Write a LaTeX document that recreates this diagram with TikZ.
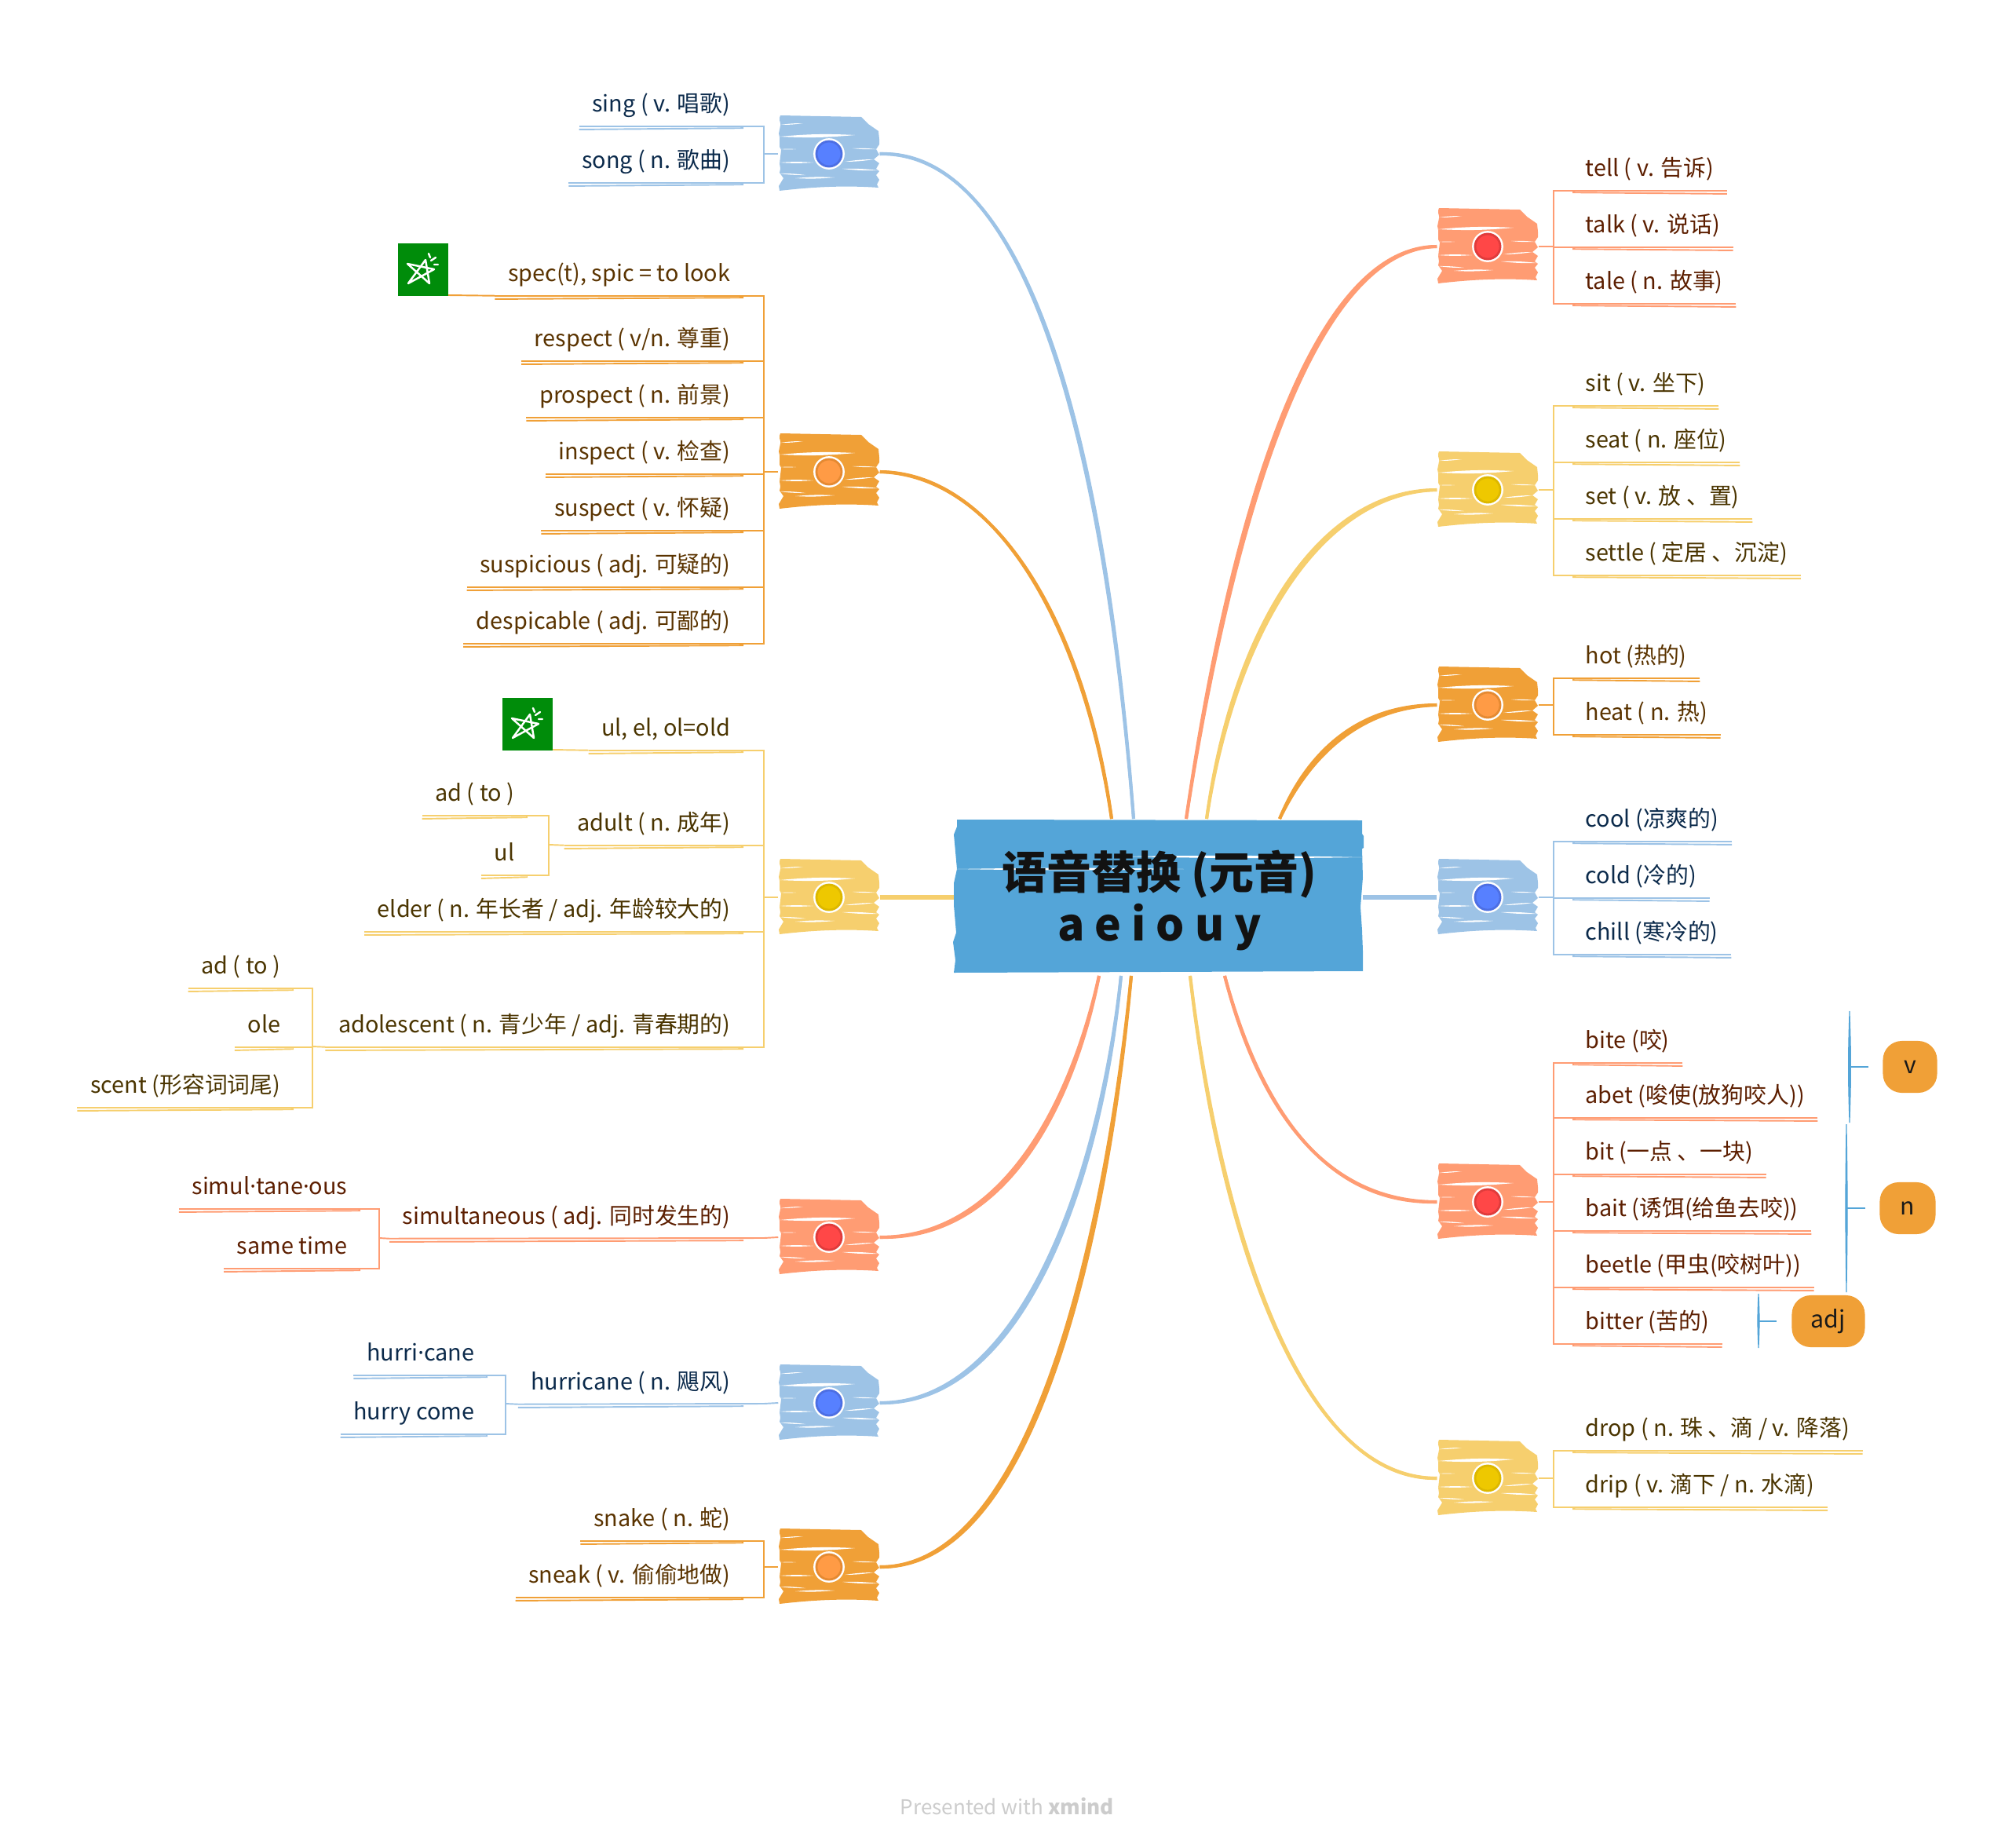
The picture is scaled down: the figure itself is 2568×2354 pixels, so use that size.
\documentclass[tikz,border=0pt]{standalone}
\usepackage{fontspec}
\setmainfont{Noto Sans CJK SC}
\newfontfamily\dotfont{Noto Sans}
\usetikzlibrary{positioning}

\definecolor{brblue}{HTML}{9DC3E6}
\definecolor{brorange}{HTML}{F0A037}
\definecolor{bryellow}{HTML}{F6CF6E}
\definecolor{brred}{HTML}{FF9C73}
\definecolor{rootblue}{HTML}{54A5D8}
\definecolor{txblue}{HTML}{0B2A4B}
\definecolor{txorange}{HTML}{5A3300}
\definecolor{txyellow}{HTML}{4A3400}
\definecolor{txred}{HTML}{5C1E00}
\definecolor{dotblue}{HTML}{5780FF}
\definecolor{ringblue}{HTML}{4D6FE3}
\definecolor{dotorange}{HTML}{FF9B45}
\definecolor{ringorange}{HTML}{E58A32}
\definecolor{dotyellow}{HTML}{EEC800}
\definecolor{ringyellow}{HTML}{DDB800}
\definecolor{dotred}{HTML}{FF4747}
\definecolor{ringred}{HTML}{E03C3C}
\definecolor{icongreen}{HTML}{008C0A}

\tikzset{
  leafl/.style={anchor=east,inner xsep=0.16cm,inner ysep=0pt,minimum height=0.62cm,
    text height=8.5pt,text depth=1pt,font=\fontsize{8.2}{10}\selectfont},
  leafr/.style={leafl,anchor=west},
  twig/.style={line width=0.55pt},
  trunk/.style={line width=1.15pt},
  boxspot/.style={inner sep=0pt,minimum width=1.28cm,minimum height=0.94cm},
  dotmark/.style={circle,inner sep=0pt,minimum size=0.32cm,line width=0.8pt,
    preaction={draw=white,line width=2.2pt}},
  pill/.style={fill=brorange,rounded corners=0.24cm,inner sep=0pt,minimum height=0.66cm,
    text=black!90,font=\fontsize{8.6}{10}\selectfont},
  sumbar/.style={fill=rootblue,draw=rootblue,line width=0.3pt},
  pics/scribble/.style={code={
    \fill[#1] (-62,-49) -- (-63,-46) -- (-63,-43) -- (-62,-39) -- (-62,-36) -- (-64,-26)
      -- (-63,-21) -- (-63,-9) -- (-61,-5) -- (-62,4) -- (-63,12) -- (-62,19) -- (-63,24)
      -- (-58,31) -- (-64,41) -- (-63,47) .. controls (-20,42) and (20,40) .. (63,43)
      -- (61,39) -- (64,33) -- (60,27) -- (64,22) -- (60,19) -- (64,12) -- (57,7) -- (64,1)
      -- (60,-6) -- (64,-12) -- (64,-19) -- (63,-29) -- (50,-38) -- (42,-46) -- (41,-47) -- cycle;
    \foreach \xa/\ya/\xb/\yb in {-63/-22/33/-24,-62/-37/-33/-39,30/-7/60/-6,-63/11/-20/11,
      17/19/63/21,-63/25/-30/27,-43/31/7/30,-62/-6/-42/-6,20/10/57/7}
      \fill[white] (\xa,\ya) to[bend left=4] (\xb,\yb) to[bend left=4] (\xa,\ya);
  }},
  pics/staricon/.style={code={
    \fill[icongreen] (-32,-33) rectangle (32,34);
    \draw[white,line width=0.7pt,line cap=round,line join=round] (3,-12) -- (-19,18) -- (14,0)
      -- (-20,-7) -- (8,18) -- cycle;
    \draw[white,line width=0.7pt,line cap=round] (7,-20) -- (9,-15) (10,-11) -- (16,-15) (14,-6) -- (19,-6);
  }},
}

\newcommand{\branchbox}[5]{%
  \pic at (#2) {scribble=#3};
  \node[boxspot] (#1) at (#2) {};
  \node[dotmark,draw=#4,fill=#5] (#1dot) at (#1) {};
}
\newcommand{\twigl}[3]{%
  \draw[twig,#3] (#1.south west) -| (#2);
  \draw[twig,#3] ([yshift=-1.2pt]#1.south west) -- ([yshift=-0.7pt]#1.south east);
}
\newcommand{\twigr}[3]{%
  \draw[twig,#3] (#1.south east) -| (#2);
  \draw[twig,#3] ([yshift=-1.2pt]#1.south east) -- ([yshift=-0.7pt]#1.south west);
}
\newcommand{\bough}[5]{%
  \draw[trunk,#5] (#1) .. controls (#2) and (#3) .. (#4);
  \draw[trunk,#5] (#1) .. controls ([xshift=1pt,yshift=-1pt]#2) and ([xshift=1pt,yshift=-1pt]#3) .. (#4);
}

\begin{document}
\begin{tikzpicture}[x=0.01cm,y=-0.01cm]
  \useasboundingbox (0,0) rectangle (2568,2354);

  % centre
  \fill[rootblue] (1219,1044) -- (1735,1045) -- (1735,1062) -- (1737,1065) -- (1737,1080) -- (1735,1081)
    -- (1736,1118) -- (1733,1155) -- (1735,1185) -- (1736,1211) -- (1736,1237) -- (1215,1239)
    -- (1217,1223) -- (1214,1200) -- (1218,1188) -- (1215,1153) -- (1215,1125) -- (1219,1107)
    -- (1215,1063) -- (1219,1053) -- cycle;
  \fill[white] (1219,1107) to[bend left=1] (1508,1107) to[bend left=1] (1219,1107);
  \fill[white] (1430,1091) to[bend left=1] (1735,1092) to[bend left=1] (1430,1091);
  \node[align=center,inner sep=0pt,minimum width=5.21cm,minimum height=1.95cm,text=black!93,
    font=\fontsize{16.2}{19}\selectfont\bfseries] (root) at (1477,1147) {语音替换 (元音)\\a e i o u y};

  % boxes left
  \branchbox{sing}{1056,196}{brblue}{ringblue}{dotblue}
  \branchbox{spec}{1056,601}{brorange}{ringorange}{dotorange}
  \branchbox{old}{1056,1143}{bryellow}{ringyellow}{dotyellow}
  \branchbox{simul}{1056,1576}{brred}{ringred}{dotred}
  \branchbox{hurri}{1056,1787}{brblue}{ringblue}{dotblue}
  \branchbox{snake}{1056,1996}{brorange}{ringorange}{dotorange}
  % boxes right
  \branchbox{tell}{1895,314}{brred}{ringred}{dotred}
  \branchbox{sit}{1895,624}{bryellow}{ringyellow}{dotyellow}
  \branchbox{hot}{1895,898}{brorange}{ringorange}{dotorange}
  \branchbox{cool}{1895,1143}{brblue}{ringblue}{dotblue}
  \branchbox{bite}{1895,1531}{brred}{ringred}{dotred}
  \branchbox{drop}{1895,1883}{bryellow}{ringyellow}{dotyellow}

  % ends on the centre
  \coordinate (endsing) at (1444,1043);
  \coordinate (endspec) at (1416,1043);
  \coordinate (endold) at (1215,1143);
  \coordinate (endsimul) at (1400,1243);
  \coordinate (endhurri) at (1428,1243);
  \coordinate (endsnake) at (1441,1243);
  \coordinate (endtell) at (1511,1043);
  \coordinate (endsit) at (1537,1043);
  \coordinate (endhot) at (1630,1043);
  \coordinate (endcool) at (1736,1143);
  \coordinate (endbite) at (1560,1243);
  \coordinate (enddrop) at (1516,1243);

  \bough{sing.east}{1290,190}{1400,500}{endsing}{brblue}
  \bough{spec.east}{1270,602}{1380,800}{endspec}{brorange}
  \bough{simul.east}{1280,1576}{1365,1400}{endsimul}{brred}
  \bough{hurri.east}{1300,1787}{1400,1500}{endhurri}{brblue}
  \bough{snake.east}{1320,1996}{1410,1550}{endsnake}{brorange}
  \bough{tell.west}{1660,314}{1560,700}{endtell}{brred}
  \bough{sit.west}{1680,624}{1570,800}{endsit}{bryellow}
  \bough{hot.west}{1720,898}{1660,970}{endhot}{brorange}
  \bough{bite.west}{1680,1531}{1600,1400}{endbite}{brred}
  \bough{drop.west}{1650,1883}{1550,1550}{enddrop}{bryellow}
  \draw[line width=1.6pt,bryellow] (old.east) -- (endold);
  \draw[line width=1.6pt,brblue] (cool.west) -- (endcool);

  % hubs
  \coordinate (hubsing) at (973,196);
  \coordinate (hubspec) at (973,601);
  \coordinate (hubold) at (973,1143);
  \coordinate (hubsimul) at (973,1577);
  \coordinate (hubhurri) at (973,1788);
  \coordinate (hubsnake) at (973,1996);
  \coordinate (hubtell) at (1979,314);
  \coordinate (hubsit) at (1979,624);
  \coordinate (hubhot) at (1979,898);
  \coordinate (hubcool) at (1979,1143);
  \coordinate (hubbite) at (1979,1531);
  \coordinate (hubdrop) at (1979,1883);
  \draw[twig,brblue] (hubsing) -- (sing.west);
  \draw[twig,brorange] (hubspec) -- (spec.west);
  \draw[twig,bryellow] (hubold) -- (old.west);
  \draw[twig,brred] (hubsimul) -- (simul.west);
  \draw[twig,brblue] (hubhurri) -- (hurri.west);
  \draw[twig,brorange] (hubsnake) -- (snake.west);
  \draw[twig,brred] (hubtell) -- (tell.east);
  \draw[twig,bryellow] (hubsit) -- (sit.east);
  \draw[twig,brorange] (hubhot) -- (hot.east);
  \draw[twig,brblue] (hubcool) -- (cool.east);
  \draw[twig,brred] (hubbite) -- (bite.east);
  \draw[twig,bryellow] (hubdrop) -- (drop.east);

  % leaves, blue top left
  \node[leafl,text=txblue] (sing1) at (947,129) {sing ( v. 唱歌)};
  \node[leafl,text=txblue] (sing2) at (947,201) {song ( n. 歌曲)};
  \twigl{sing1}{hubsing}{brblue}
  \twigl{sing2}{hubsing}{brblue}

  % leaves, orange
  \node[leafl,text=txorange] (spec1) at (947,345) {spec(t), spic = to look};
  \node[leafl,text=txorange] (spec2) at (947,428) {respect ( v/n. 尊重)};
  \node[leafl,text=txorange] (spec3) at (947,500) {prospect ( n. 前景)};
  \node[leafl,text=txorange] (spec4) at (947,572) {inspect ( v. 检查)};
  \node[leafl,text=txorange] (spec5) at (947,644) {suspect ( v. 怀疑)};
  \node[leafl,text=txorange] (spec6) at (947,716) {suspicious ( adj. 可疑的)};
  \node[leafl,text=txorange] (spec7) at (947,788) {despicable ( adj. 可鄙的)};
  \twigl{spec1}{hubspec}{brorange}
  \twigl{spec2}{hubspec}{brorange}
  \twigl{spec3}{hubspec}{brorange}
  \twigl{spec4}{hubspec}{brorange}
  \twigl{spec5}{hubspec}{brorange}
  \twigl{spec6}{hubspec}{brorange}
  \twigl{spec7}{hubspec}{brorange}
  \pic at (539,343) {staricon};
  \coordinate (iconspec) at (571,376);
  \draw[twig,brorange] (iconspec) -- (spec1.south west);

  % leaves, yellow left
  \node[leafl,text=txyellow] (old1) at (947,924) {ul, el, ol=old};
  \node[leafl,text=txyellow] (old2) at (947,1045) {adult ( n. 成年)};
  \node[leafl,text=txyellow] (old3) at (947,1155) {elder ( n. 年长者 / adj. 年龄较大的)};
  \node[leafl,text=txyellow] (old4) at (947,1302) {adolescent ( n. 青少年 / adj. 青春期的)};
  \twigl{old1}{hubold}{bryellow}
  \twigl{old2}{hubold}{bryellow}
  \twigl{old3}{hubold}{bryellow}
  \twigl{old4}{hubold}{bryellow}
  \pic at (672,922) {staricon};
  \coordinate (iconold) at (704,955);
  \draw[twig,bryellow] (iconold) -- (old1.south west);

  \node[leafl,text=txyellow] (adult1) at (672,1007) {ad ( to )};
  \node[leafl,text=txyellow] (adult2) at (672,1083) {ul};
  \coordinate (hubadult) at (699,1076);
  \twigl{adult1}{hubadult}{bryellow}
  \twigl{adult2}{hubadult}{bryellow}
  \draw[twig,bryellow] (hubadult) -- (old2.south west);

  \node[leafl,text=txyellow] (adol1) at (374,1227) {ad ( to )};
  \node[leafl,text=txyellow] (adol2) at (374,1302) {ole};
  \node[leafl,text=txyellow] (adol3) at (374,1379) {scent (形容词词尾)};
  \coordinate (hubadol) at (398,1333);
  \twigl{adol1}{hubadol}{bryellow}
  \twigl{adol2}{hubadol}{bryellow}
  \twigl{adol3}{hubadol}{bryellow}
  \draw[twig,bryellow] (hubadol) -- (old4.south west);

  % leaves, red left
  \node[leafl,text=txred] (simul1) at (947,1546) {simultaneous ( adj. 同时发生的)};
  \draw[twig,brred] (simul1.south west) -- (hubsimul);
  \draw[twig,brred] ([yshift=-1.2pt]simul1.south west) -- ([yshift=-0.7pt]simul1.south east);
  \node[leafl,text=txred] (sim1) at (459,1508) {simul{\dotfont ·}tane{\dotfont ·}ous};
  \node[leafl,text=txred] (sim2) at (459,1584) {same time};
  \coordinate (hubsim) at (483,1577);
  \twigl{sim1}{hubsim}{brred}
  \twigl{sim2}{hubsim}{brred}
  \draw[twig,brred] (hubsim) -- (simul1.south west);

  % leaves, blue lower left
  \node[leafl,text=txblue] (hurri1) at (947,1757) {hurricane ( n. 飓风)};
  \draw[twig,brblue] (hurri1.south west) -- (hubhurri);
  \draw[twig,brblue] ([yshift=-1.2pt]hurri1.south west) -- ([yshift=-0.7pt]hurri1.south east);
  \node[leafl,text=txblue] (hur1) at (621,1720) {hurri{\dotfont ·}cane};
  \node[leafl,text=txblue] (hur2) at (621,1795) {hurry come};
  \coordinate (hubhur) at (644,1788);
  \twigl{hur1}{hubhur}{brblue}
  \twigl{hur2}{hubhur}{brblue}
  \draw[twig,brblue] (hubhur) -- (hurri1.south west);

  % leaves, orange lower left
  \node[leafl,text=txorange] (snake1) at (947,1931) {snake ( n. 蛇)};
  \node[leafl,text=txorange] (snake2) at (947,2003) {sneak ( v. 偷偷地做)};
  \twigl{snake1}{hubsnake}{brorange}
  \twigl{snake2}{hubsnake}{brorange}

  % leaves right
  \node[leafr,text=txred] (tell1) at (2003,211) {tell ( v. 告诉)};
  \node[leafr,text=txred] (tell2) at (2003,283) {talk ( v. 说话)};
  \node[leafr,text=txred] (tell3) at (2003,355) {tale ( n. 故事)};
  \twigr{tell1}{hubtell}{brred}
  \twigr{tell2}{hubtell}{brred}
  \twigr{tell3}{hubtell}{brred}

  \node[leafr,text=txyellow] (sit1) at (2003,485) {sit ( v. 坐下)};
  \node[leafr,text=txyellow] (sit2) at (2003,557) {seat ( n. 座位)};
  \node[leafr,text=txyellow] (sit3) at (2003,629) {set ( v. 放 、置)};
  \node[leafr,text=txyellow] (sit4) at (2003,701) {settle ( 定居 、沉淀)};
  \twigr{sit1}{hubsit}{bryellow}
  \twigr{sit2}{hubsit}{bryellow}
  \twigr{sit3}{hubsit}{bryellow}
  \twigr{sit4}{hubsit}{bryellow}

  \node[leafr,text=txorange] (hot1) at (2003,832) {hot (热的)};
  \node[leafr,text=txorange] (hot2) at (2003,904) {heat ( n. 热)};
  \twigr{hot1}{hubhot}{brorange}
  \twigr{hot2}{hubhot}{brorange}

  \node[leafr,text=txblue] (cool1) at (2003,1040) {cool (凉爽的)};
  \node[leafr,text=txblue] (cool2) at (2003,1112) {cold (冷的)};
  \node[leafr,text=txblue] (cool3) at (2003,1184) {chill (寒冷的)};
  \twigr{cool1}{hubcool}{brblue}
  \twigr{cool2}{hubcool}{brblue}
  \twigr{cool3}{hubcool}{brblue}

  \node[leafr,text=txred] (bite1) at (2003,1322) {bite (咬)};
  \node[leafr,text=txred] (bite2) at (2003,1392) {abet (唆使(放狗咬人))};
  \node[leafr,text=txred] (bite3) at (2003,1464) {bit (一点 、一块)};
  \node[leafr,text=txred] (bite4) at (2003,1536) {bait (诱饵(给鱼去咬))};
  \node[leafr,text=txred] (bite5) at (2003,1608) {beetle (甲虫(咬树叶))};
  \node[leafr,text=txred] (bite6) at (2003,1680) {bitter (苦的)};
  \twigr{bite1}{hubbite}{brred}
  \twigr{bite2}{hubbite}{brred}
  \twigr{bite3}{hubbite}{brred}
  \twigr{bite4}{hubbite}{brred}
  \twigr{bite5}{hubbite}{brred}
  \twigr{bite6}{hubbite}{brred}

  \node[leafr,text=txyellow] (drop1) at (2003,1816) {drop ( n. 珠 、滴 / v. 降落)};
  \node[leafr,text=txyellow] (drop2) at (2003,1888) {drip ( v. 滴下 / n. 水滴)};
  \twigr{drop1}{hubdrop}{bryellow}
  \twigr{drop2}{hubdrop}{bryellow}

  % summaries
  \node[pill,minimum width=0.69cm] (sumv) at (2433,1359) {v};
  \node[pill,minimum width=0.71cm] (sumn) at (2430,1539) {n};
  \node[pill,minimum width=0.93cm] (sumadj) at (2329,1683) {adj};
  \coordinate (barv1) at (2356,1288);
  \coordinate (barv2) at (2356,1430);
  \coordinate (barvm) at (2356,1359);
  \coordinate (barvs) at (2380,1359);
  \coordinate (barn1) at (2352,1432);
  \coordinate (barn2) at (2352,1646);
  \coordinate (barnm) at (2352,1539);
  \coordinate (barns) at (2376,1539);
  \coordinate (bara1) at (2240,1648);
  \coordinate (bara2) at (2240,1717);
  \coordinate (baram) at (2240,1683);
  \coordinate (baras) at (2263,1683);
  \draw[sumbar] (barv1) to[bend left=2] (barv2) to[bend left=2] (barv1);
  \draw[sumbar] (barn1) to[bend left=1] (barn2) to[bend left=1] (barn1);
  \draw[sumbar] (bara1) to[bend left=3] (bara2) to[bend left=3] (bara1);
  \draw[sumbar] (barvm) -- (barvs);
  \draw[sumbar] (barnm) -- (barns);
  \draw[sumbar] (baram) -- (baras);

  % footer
  \node[text=black!20,font=\fontsize{7.4}{9}\selectfont] (footer) at (1283,2301) {Presented with \textbf{xmind}};
\end{tikzpicture}
\end{document}
